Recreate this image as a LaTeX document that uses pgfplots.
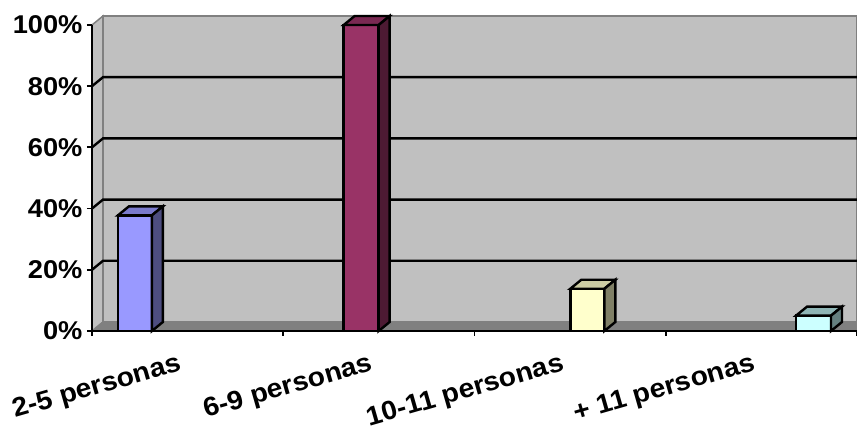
\documentclass[border=0pt]{standalone}
\usepackage{fontspec}
\setmainfont[FakeStretch=1.06]{Liberation Sans}
\usepackage{pgfplots}
\pgfplotsset{compat=1.18}
\definecolor{wallgrey}{HTML}{C0C0C0}
\definecolor{edgegrey}{HTML}{808080}
\begin{document}
\begin{tikzpicture}[x=1pt,y=1pt]
\useasboundingbox (-92,-96) rectangle (765,331);
\begin{axis}[
    at={(0,0)}, anchor=south west,
    scale only axis, width=765pt, height=306pt,
    xmin=0, xmax=4, ymin=0, ymax=100,
    clip=false, axis on top=true,
    axis x line=bottom, axis y line=left,
    axis line style={black, line width=2.4pt, -},
    every tick/.style={black, line width=1.8pt},
    tick align=outside, major tick length=5pt,
    xtick={0,1,2,3,4}, xticklabels={},
    ytick={0,20,40,60,80,100},
    yticklabels={0\%,20\%,40\%,60\%,80\%,100\%},
    yticklabel style={font=\fontsize{25.7}{28}\selectfont\bfseries, xshift=-1pt},
    extra x ticks={0.5,1.5,2.5,3.5},
    extra x tick labels={2-5 personas,6-9 personas,10-11 personas,+ 11 personas},
    extra x tick style={major tick length=0pt, tick style={draw=none},
        xticklabel style={font=\fontsize{26.6}{29}\selectfont\bfseries,
            rotate=16, anchor=north east, xshift=-12pt, yshift=-14pt}},
]
% side wall, floor, back wall
\addplot[fill=wallgrey, draw=edgegrey, line width=1.5pt] coordinates {(0,0) (0,100) (0.0574,102.94) (0.0574,2.94)} --cycle;
\addplot[fill=wallgrey, draw=edgegrey, line width=2.4pt] coordinates {(0.0574,2.94) (0.0574,102.94) (4,102.94) (4,2.94)} --cycle;
\addplot[fill=edgegrey, draw=edgegrey, line width=1pt] coordinates {(0,0) (0.0574,2.94) (4,2.94) (4,0)} --cycle;
% gridlines on the back wall, with their run along the side wall
\addplot[black, line width=2.4pt] coordinates {(0,20) (0.0574,22.94) (4,22.94)};
\addplot[black, line width=2.4pt] coordinates {(0,40) (0.0574,42.94) (4,42.94)};
\addplot[black, line width=2.4pt] coordinates {(0,60) (0.0574,62.94) (4,62.94)};
\addplot[black, line width=2.4pt] coordinates {(0,80) (0.0574,82.94) (4,82.94)};
% 2-5 personas
\addplot[fill={rgb,255:red,153;green,153;blue,255}, draw=black, line width=2.4pt] coordinates {(0.1358,0) (0.3133,0) (0.3133,37.8) (0.1358,37.8)} --cycle;
\addplot[fill={rgb,255:red,122;green,122;blue,204}, draw=black, line width=2.4pt] coordinates {(0.1358,37.8) (0.3133,37.8) (0.3707,40.74) (0.1932,40.74)} --cycle;
\addplot[fill={rgb,255:red,77;green,77;blue,128}, draw=black, line width=2.4pt] coordinates {(0.3133,0) (0.3707,2.94) (0.3707,40.74) (0.3133,37.8)} --cycle;
% 6-9 personas
\addplot[fill={rgb,255:red,153;green,51;blue,102}, draw=black, line width=2.4pt] coordinates {(1.316,0) (1.499,0) (1.499,100) (1.316,100)} --cycle;
\addplot[fill={rgb,255:red,122;green,41;blue,82}, draw=black, line width=2.4pt] coordinates {(1.316,100) (1.499,100) (1.5564,102.94) (1.3734,102.94)} --cycle;
\addplot[fill={rgb,255:red,77;green,26;blue,51}, draw=black, line width=2.4pt] coordinates {(1.499,0) (1.5564,2.94) (1.5564,102.94) (1.499,100)} --cycle;
% 10-11 personas
\addplot[fill={rgb,255:red,255;green,255;blue,204}, draw=black, line width=2.4pt] coordinates {(2.501,0) (2.679,0) (2.679,13.8) (2.501,13.8)} --cycle;
\addplot[fill={rgb,255:red,204;green,204;blue,163}, draw=black, line width=2.4pt] coordinates {(2.501,13.8) (2.679,13.8) (2.7364,16.74) (2.5584,16.74)} --cycle;
\addplot[fill={rgb,255:red,128;green,128;blue,102}, draw=black, line width=2.4pt] coordinates {(2.679,0) (2.7364,2.94) (2.7364,16.74) (2.679,13.8)} --cycle;
% + 11 personas
\addplot[fill={rgb,255:red,204;green,255;blue,255}, draw=black, line width=2.4pt] coordinates {(3.681,0) (3.864,0) (3.864,5) (3.681,5)} --cycle;
\addplot[fill={rgb,255:red,143;green,181;blue,181}, draw=black, line width=2.4pt] coordinates {(3.681,5) (3.864,5) (3.9214,7.94) (3.7384,7.94)} --cycle;
\addplot[fill={rgb,255:red,102;green,128;blue,128}, draw=black, line width=2.4pt] coordinates {(3.864,0) (3.9214,2.94) (3.9214,7.94) (3.864,5)} --cycle;
\end{axis}
\end{tikzpicture}
\end{document}
